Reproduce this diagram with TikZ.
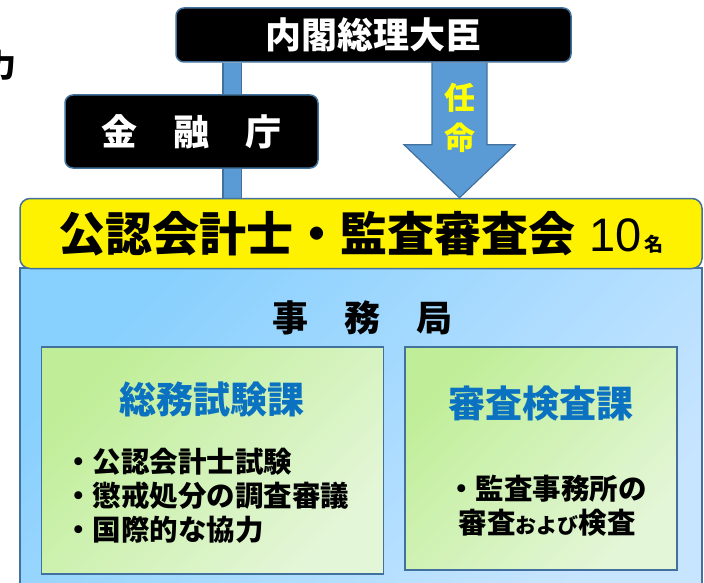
\documentclass[tikz,border=0pt]{standalone}
\usepackage{fontspec}
\setmainfont{Noto Sans CJK JP}
\newfontfamily\digitfont{Liberation Sans}
\usetikzlibrary{calc,backgrounds}

\definecolor{boxline}{HTML}{41719C}
\definecolor{barfill}{HTML}{5B9BD5}
\definecolor{officetl}{HTML}{88D0FE}
\definecolor{officebr}{HTML}{C8E5FF}
\definecolor{greentl}{HTML}{C0EE98}
\definecolor{greenbr}{HTML}{E4F6D8}
\definecolor{titleblue}{HTML}{0B72C1}
\definecolor{appointyellow}{HTML}{FFFF00}

\tikzset{
  blackbox/.style={draw=boxline, line width=1.5pt, fill=black, rounded corners=8pt,
                   text=white, inner sep=0pt, font=\fontsize{36}{36}\selectfont\bfseries},
  boardbox/.style={draw=boxline, line width=1.5pt, fill=yellow, rounded corners=10pt,
                   inner sep=0pt},
  officebox/.style={draw=boxline, line width=1.5pt, top color=officetl,
                    bottom color=officebr, shading angle=45, inner sep=0pt},
  sectionbox/.style={draw=boxline, line width=1.5pt, top color=greentl,
                     bottom color=greenbr, shading angle=45, inner sep=0pt},
  sectiontitle/.style={text=titleblue, inner sep=0pt, font=\fontsize{37}{37}\selectfont\bfseries},
  tasklist/.style={inner sep=0pt, font=\fontsize{28.5}{34}\selectfont\bfseries},
  linkbar/.style={draw=boxline, line width=1.2pt, double=barfill, double distance=17pt},
  bigarrow/.style={draw=boxline, line width=1.2pt, fill=barfill},
}

\begin{document}
\begin{tikzpicture}[x=1pt,y=-1pt]
  \useasboundingbox (0,0) rectangle (704,583);
  \clip (0,0) rectangle (704,583);

  % USER SETTINGS
  \def\sw{27.5} % half width of arrow shaft
  \def\hw{55.5} % half width of arrow head
  \def\hl{53}   % length of arrow head

  % CUT-OFF TEXT AT THE LEFT EDGE
  \node[inner sep=0pt, font=\fontsize{32}{32}\selectfont\bfseries] (edgetext) at (1,65) {力};

  % TOP BOXES
  \node[blackbox, minimum width=395pt, minimum height=54pt] (cabinet) at (373.5,35) {内閣総理大臣};
  \node[blackbox, minimum width=253pt, minimum height=73pt] (fsa) at (191.5,131.5) {金　融　庁};

  % OFFICE
  \node[officebox, minimum width=682pt, minimum height=340pt] (office) at (361,438) {};
  \node[inner sep=0pt, font=\fontsize{36}{36}\selectfont\bfseries] (officelabel) at (362,318) {事　務　局};

  % BOARD
  \node[boardbox, minimum width=682pt, minimum height=70pt] (board) at (361,233.5)
    {\fontsize{47}{47}\selectfont\bfseries 公認会計士・監査審査会\hspace{14pt}%
     {\digitfont\mdseries\fontsize{47}{47}\selectfont 10}\hspace{2pt}{\fontsize{19}{19}\selectfont 名}};

  % SECTIONS
  \node[sectionbox, minimum width=342pt, minimum height=227pt] (gensec) at (212.5,460.5) {};
  \node[sectiontitle] (gentitle) at (212,399) {総務試験課};
  \node[tasklist, anchor=west, align=left] (genlist) at (64,496)
    {・公認会計士試験\\・懲戒処分の調査審議\\・国際的な協力};

  \node[sectionbox, minimum width=272pt, minimum height=223pt] (inssec) at (541,458.5) {};
  \node[sectiontitle] (institle) at (541,404) {審査検査課};
  \node[tasklist, align=center] (inslist) at (547,506)
    {・監査事務所の\\審査{\fontsize{21}{21}\selectfont および}検査};

  % CONNECTORS
  \coordinate (barx) at (232,0);
  \coordinate (tip) at (board.north -| 459.5,0);
  \begin{scope}[on background layer]
    \draw[linkbar] (cabinet.south -| barx) -- (board.north -| barx);
    \draw[bigarrow] ($(cabinet.south -| tip)+(-\sw,0)$) -- ($(tip)+(-\sw,-\hl)$)
      -- ($(tip)+(-\hw,-\hl)$) -- (tip) -- ($(tip)+(\hw,-\hl)$)
      -- ($(tip)+(\sw,-\hl)$) -- ($(cabinet.south -| tip)+(\sw,0)$);
  \end{scope}
  \node[inner sep=0pt, text=appointyellow, align=center,
        font=\fontsize{31}{40}\selectfont\bfseries] (appoint) at (459.5,118) {任\\命};

\end{tikzpicture}
\end{document}
